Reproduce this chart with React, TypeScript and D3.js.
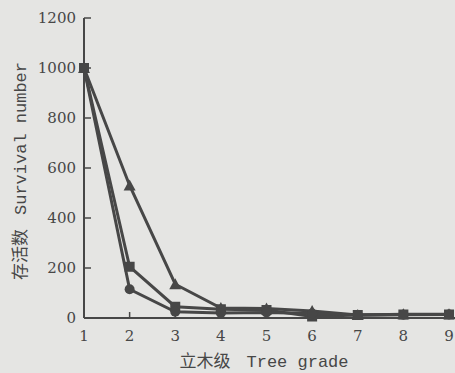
import { scaleLinear, line } from "d3";

const grades = [1, 2, 3, 4, 5, 6, 7, 8, 9];
const triangleSeries = [1000, 530, 135, 40, 38, 28, 12, 15, 15];
const squareSeries = [1000, 205, 45, 35, 32, 6, 12, 14, 14];
const circleSeries = [1000, 115, 25, 20, 22, 18, 12, 13, 14];
const yTicks = [0, 200, 400, 600, 800, 1000, 1200];

const W = 455;
const H = 373;
const ink = "#474747";
const serif = "DejaVu Serif";
const mono = "Liberation Mono";
const cjk = "Noto Sans CJK SC";

function Marker({ kind, x, y }: { kind: string; x: number; y: number }) {
  if (kind === "circle") return <circle cx={x} cy={y} r={5} fill={ink} />;
  if (kind === "square") return <rect x={x - 5} y={y - 5} width={10} height={10} fill={ink} />;
  return <path d={`M${x},${y - 6}L${x + 6},${y + 5}L${x - 6},${y + 5}Z`} fill={ink} />;
}

export default function App() {
  const x = scaleLinear().domain([1, 9]).range([84, 449]);
  const y = scaleLinear().domain([0, 1200]).range([318, 18]);
  const path = line<number>()
    .x((_, i) => x(grades[i]))
    .y((d) => y(d));

  const series = [
    { kind: "triangle", values: triangleSeries },
    { kind: "square", values: squareSeries },
    { kind: "circle", values: circleSeries },
  ];

  return (
    <svg
      width={W}
      height={H}
      style={{ position: "absolute", left: 0, top: 0, background: "#e5e5e3" }}
    >
      {/* axes */}
      <line x1={x(1)} x2={x(1)} y1={y(1200)} y2={y(0)} stroke={ink} strokeWidth={2} />
      <line x1={x(1)} x2={W} y1={y(0)} y2={y(0)} stroke={ink} strokeWidth={2} />
      {yTicks.map((t) => (
        <g key={t}>
          <line x1={x(1)} x2={x(1) + 7} y1={y(t)} y2={y(t)} stroke={ink} strokeWidth={1.5} />
          <text
            x={x(1) - 8}
            y={y(t)}
            dy="0.35em"
            textAnchor="end"
            style={{ fontFamily: serif, fontSize: 15 }}
            fill={ink}
          >
            {t}
          </text>
        </g>
      ))}
      {grades.map((g) => (
        <g key={g}>
          <line x1={x(g)} x2={x(g)} y1={y(0)} y2={y(0) - 6} stroke={ink} strokeWidth={1.5} />
          <text
            x={x(g)}
            y={y(0) + 23}
            textAnchor="middle"
            style={{ fontFamily: serif, fontSize: 15 }}
            fill={ink}
          >
            {g}
          </text>
        </g>
      ))}

      {/* series */}
      {series.map((s) => (
        <g key={s.kind}>
          <path d={path(s.values) ?? ""} fill="none" stroke={ink} strokeWidth={3} />
          {s.values.map((v, i) => (
            <Marker key={i} kind={s.kind} x={x(grades[i])} y={y(v)} />
          ))}
        </g>
      ))}

      {/* axis titles */}
      <text x={264} y={367} textAnchor="middle" fill={ink} style={{ fontSize: 17 }}>
        <tspan style={{ fontFamily: cjk }}>立木级</tspan>
        <tspan style={{ fontFamily: mono }} dx={16}>Tree grade</tspan>
      </text>
      <text
        transform="translate(26,171) rotate(-90)"
        textAnchor="middle"
        fill={ink}
        style={{ fontSize: 17 }}
      >
        <tspan style={{ fontFamily: cjk }}>存活数</tspan>
        <tspan style={{ fontFamily: mono }} dx={14}>Survival number</tspan>
      </text>
    </svg>
  );
}
